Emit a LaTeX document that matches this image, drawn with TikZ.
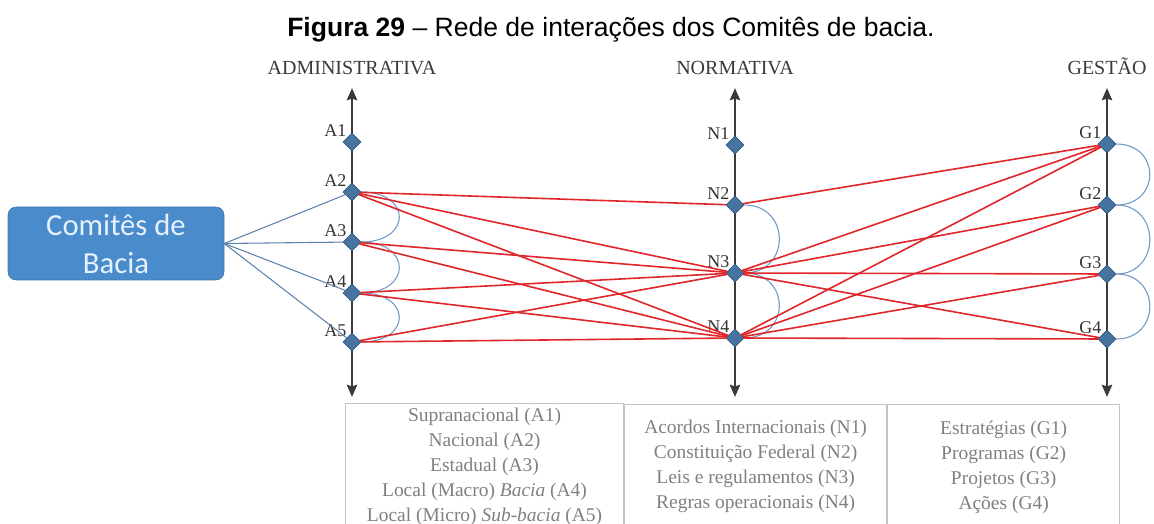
\documentclass[tikz,border=0pt]{standalone}
\usepackage{fontspec}
\setmainfont{Liberation Serif}
\newfontfamily\arialfont{Liberation Sans}
\newfontfamily\calibrifont{Carlito}
\usetikzlibrary{shapes.geometric,arrows.meta,positioning}
\definecolor{axisgray}{HTML}{3A3A3A}
\definecolor{diafill}{HTML}{46739F}
\definecolor{diadark}{HTML}{2B4F73}
\definecolor{relred}{HTML}{E0262B}
\definecolor{adjblue}{HTML}{7099C6}
\definecolor{linkblue}{HTML}{6083AA}
\definecolor{boxfill}{HTML}{4A8BCB}
\definecolor{boxdraw}{HTML}{3D76B0}
\definecolor{boxtext}{HTML}{E4F1FF}
\definecolor{tabline}{HTML}{C4C4C4}
\definecolor{tabtext}{HTML}{808080}

\begin{document}
\begin{tikzpicture}[x=0.75pt,y=-0.75pt,>={Stealth[length=9pt,width=7.5pt,inset=1pt]},
    lvl/.style={diamond,draw=diadark,fill=diafill,inner sep=0pt,minimum size=13.5pt},
    tag/.style={font=\fontsize{13.5}{14}\selectfont,text=black!80,inner sep=0.5pt},
    head/.style={font=\fontsize{15}{16}\selectfont,text=axisgray,anchor=base},
    axis/.style={draw=axisgray,line width=2pt,<->},
    rel/.style={draw=relred,line width=1.2pt},
    adj/.style={draw=adjblue,line width=0.8pt},
    link/.style={draw=linkblue,line width=0.8pt},
    comite/.style={rectangle,rounded corners=6pt,draw=boxdraw,fill=boxfill,text=boxtext,
      minimum width=162pt,minimum height=54.75pt,align=center,
      font=\calibrifont\fontsize{23}{28.5}\selectfont},
    cell/.style={rectangle,draw=tabline,line width=0.8pt,minimum height=94pt,align=center,
      text=tabtext,font=\fontsize{14.6}{18.75}\selectfont}]
  \useasboundingbox (0,0) rectangle (1154,524);

  \node[anchor=base,font=\arialfont\fontsize{19.9}{24}\selectfont] (title) at (611,37)
    {\textbf{Figura 29} – Rede de interações dos Comitês de bacia.};
  \node[head] (hA) at (352,75) {ADMINISTRATIVA};
  \node[head] (hN) at (735,75) {NORMATIVA};
  \node[head] (hG) at (1107,75) {GESTÃO};

  \coordinate (Atop) at (352,88);  \coordinate (Abot) at (352,397);
  \coordinate (Ntop) at (735,88);  \coordinate (Nbot) at (735,397);
  \coordinate (Gtop) at (1107,88); \coordinate (Gbot) at (1107,397);
  \draw[axis] (Atop) -- (Abot);
  \draw[axis] (Ntop) -- (Nbot);
  \draw[axis] (Gtop) -- (Gbot);

  \node[lvl,label={[tag]above left:A1}] (A1) at (352,142) {};
  \node[lvl,label={[tag]above left:A2}] (A2) at (352,192) {};
  \node[lvl,label={[tag]above left:A3}] (A3) at (352,242) {};
  \node[lvl,label={[tag]above left:A4}] (A4) at (352,293) {};
  \node[lvl,label={[tag]above left:A5}] (A5) at (352,342) {};
  \node[lvl,label={[tag]above left:N1}] (N1) at (735,145) {};
  \node[lvl,label={[tag]above left:N2}] (N2) at (735,205) {};
  \node[lvl,label={[tag]above left:N3}] (N3) at (735,273) {};
  \node[lvl,label={[tag]above left:N4}] (N4) at (735,338) {};
  \node[lvl,label={[tag]above left:G1}] (G1) at (1107,144) {};
  \node[lvl,label={[tag]above left:G2}] (G2) at (1107,205) {};
  \node[lvl,label={[tag]above left:G3}] (G3) at (1107,274) {};
  \node[lvl,label={[tag]above left:G4}] (G4) at (1107,339) {};

  \node[comite] (cb) at (116,243.5) {Comitês de\\Bacia};
  \draw[link] (cb.east) -- (A2);
  \draw[link] (cb.east) -- (A3);
  \draw[link] (cb.east) -- (A4);
  \draw[link] (cb.east) -- (A5);

  \draw[adj] (A2) .. controls +(60,0) and +(60,0) .. (A3);
  \draw[adj] (A3) .. controls +(60,0) and +(60,0) .. (A4);
  \draw[adj] (A4) .. controls +(60,0) and +(60,0) .. (A5);
  \draw[adj] (N2) .. controls +(56,0) and +(56,0) .. (N3);
  \draw[adj] (N3) .. controls +(56,0) and +(56,0) .. (N4);
  \draw[adj] (G1) .. controls +(54,0) and +(54,0) .. (G2);
  \draw[adj] (G2) .. controls +(54,0) and +(54,0) .. (G3);
  \draw[adj] (G3) .. controls +(54,0) and +(54,0) .. (G4);

  \draw[rel] (A2) -- (N2);
  \draw[rel] (A2) -- (N3);
  \draw[rel] (A2) -- (N4);
  \draw[rel] (A3) -- (N3);
  \draw[rel] (A3) -- (N4);
  \draw[rel] (A4) -- (N3);
  \draw[rel] (A4) -- (N4);
  \draw[rel] (A5) -- (N3);
  \draw[rel] (A5) -- (N4);
  \draw[rel] (N2) -- (G1);
  \draw[rel] (N3) -- (G1);
  \draw[rel] (N3) -- (G2);
  \draw[rel] (N3) -- (G3);
  \draw[rel] (N3) -- (G4);
  \draw[rel] (N4) -- (G1);
  \draw[rel] (N4) -- (G2);
  \draw[rel] (N4) -- (G3);
  \draw[rel] (N4) -- (G4);

  \node[cell,minimum width=208.5pt,anchor=north west] (tA) at (345,403)
    {Supranacional (A1)\\Nacional (A2)\\Estadual (A3)\\Local (Macro) \textit{Bacia} (A4)\\Local (Micro) \textit{Sub-bacia} (A5)};
  \node[cell,minimum width=196.5pt,right=0pt of tA] (tN)
    {Acordos Internacionais (N1)\\Constituição Federal (N2)\\Leis e regulamentos (N3)\\Regras operacionais (N4)};
  \node[cell,minimum width=174pt,right=0pt of tN] (tG)
    {Estratégias (G1)\\Programas (G2)\\Projetos (G3)\\Ações (G4)};
\end{tikzpicture}
\end{document}
